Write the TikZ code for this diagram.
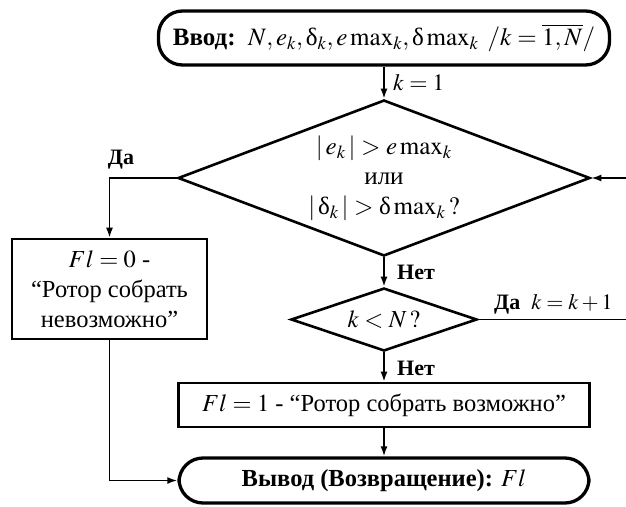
\documentclass[tikz,border=0pt]{standalone}
\usepackage{mathptmx}
\usepackage[no-math]{fontspec}
\setmainfont{Liberation Serif}
\usetikzlibrary{arrows.meta,shapes.geometric}
\newcommand\updel{\mbox{δ}}
\begin{document}
\begin{tikzpicture}[x=1pt,y=-1pt,
  font=\fontsize{24.5}{30}\selectfont,
  term/.style={draw, line width=3.3pt, rounded corners=24pt, inner sep=0pt},
  procbox/.style={draw, line width=2.6pt, inner sep=0pt, align=center},
  dia/.style={draw, diamond, line width=2.6pt, inner sep=0pt},
  conn/.style={line width=1.8pt, -{Latex[length=10pt,width=7pt]}},
  lbl/.style={font=\bfseries\fontsize{22}{26}\selectfont, inner sep=0pt},
  txt/.style={inner sep=0pt, align=center}]
\useasboundingbox (0,0) rectangle (626,506);
% shapes
\node[term, minimum width=451pt, minimum height=54pt] (start) at (384,38) {};
\node[txt, font=\fontsize{25}{30}\selectfont] (startt) at (384,38) {{\bfseries Ввод:}\enspace $N, e_k, \updel_k, e\max_k, \updel\max_k\ /k=\overline{1,N}/$};
\node[dia, minimum width=412pt, minimum height=156pt] (d1) at (384,178) {};
\node[txt, font=\fontsize{25}{30}\selectfont] (d1t) at (384,178) {$|\,e_k\,|>e\max_k$\\или\\$|\,\updel_k\,|>\updel\max_k\,?$};
\node[procbox, minimum width=195pt, minimum height=100pt] (fl0) at (109.5,289) {};
\node[txt] (fl0t) at (109.5,289) {$Fl=0$ -\\“Ротор собрать\\невозможно”};
\node[dia, minimum width=186pt, minimum height=63pt] (d2) at (384,319.5) {};
\node[txt] (d2t) at (384,319.5) {$k<N\,?$};
\node[procbox, minimum width=411pt, minimum height=44pt] (fl1) at (384,405) {};
\node[txt] (fl1t) at (384,405) {$Fl=1$ - “Ротор собрать возможно”};
\node[term, minimum width=410pt, minimum height=45pt] (end) at (384,480.5) {};
\node[txt] (endt) at (384,480.5) {{\bfseries Вывод (Возвращение):} $Fl$};
% labels
\node[txt, anchor=west, font=\fontsize{23.5}{28}\selectfont] (lk1) at (393,83) {$k=1$};
\node[lbl] (lyes1) at (121,160) {Да};
\node[lbl, anchor=west] (lno1) at (397,272) {Нет};
\node[txt, anchor=west, font=\fontsize{22}{26}\selectfont] (lyes2) at (494,304) {\textbf{Да}\enspace$k=k+1$};
\node[lbl, anchor=west] (lno2) at (397,368) {Нет};
% connectors
\coordinate (loopr) at (632,319.5);
\draw[conn] (start.south) -- (d1.north);
\draw[conn] (d1.west) -| (fl0.north);
\draw[conn] (fl0.south) |- (end.west);
\draw[conn] (d1.south) -- (d2.north);
\draw[conn] (d2.south) -- (fl1.north);
\draw[conn] (fl1.south) -- (end.north);
\draw[conn] (d2.east) -- (loopr) |- (d1.east);
\end{tikzpicture}
\end{document}
